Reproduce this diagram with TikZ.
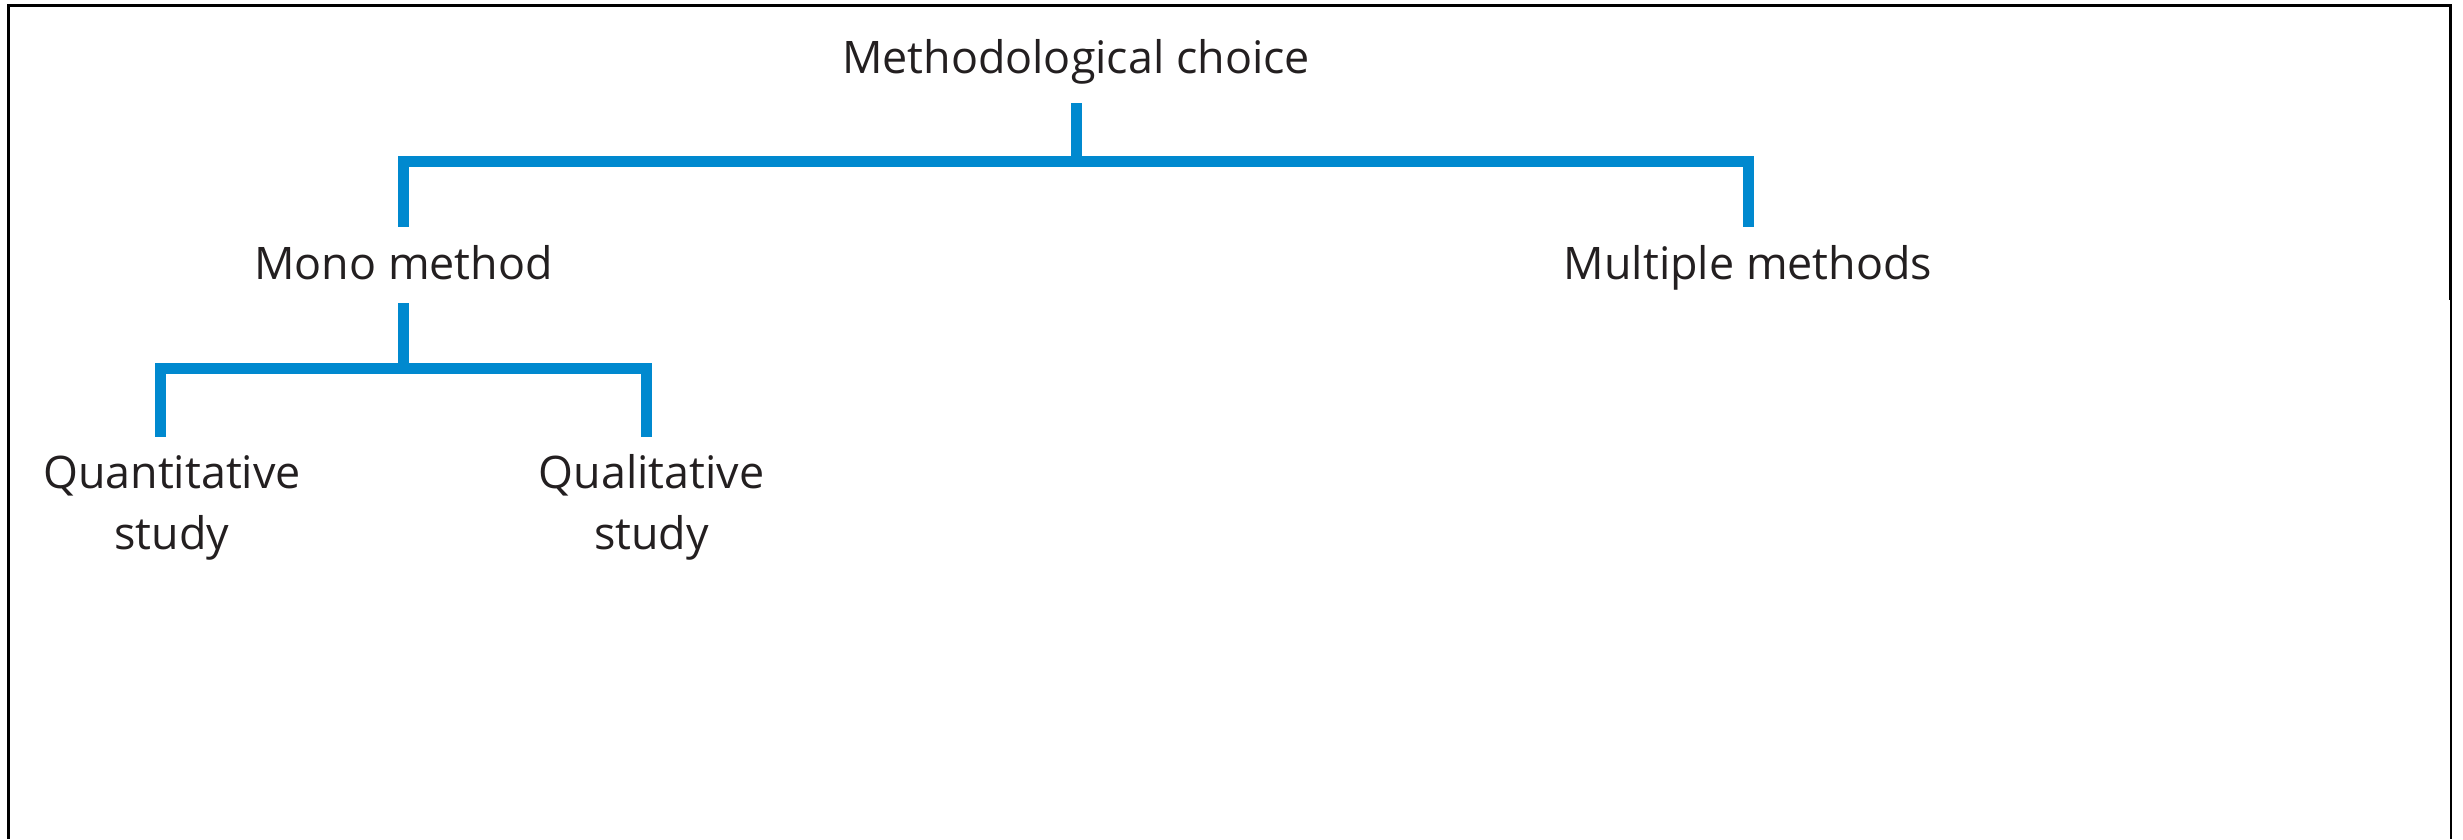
\documentclass[tikz,border=0pt]{standalone}
\usepackage{fontspec}
\setmainfont{Open Sans}
\usepackage{tikz}
\definecolor{linkblue}{RGB}{0,137,207}
\definecolor{inkgray}{RGB}{35,31,32}

\begin{document}
\begin{tikzpicture}[x=0.01cm,y=0.01cm,
   every node/.style={inner sep=0,anchor=base,text=inkgray,align=center,
      font=\fontsize{12.75}{17.6}\selectfont},
   link/.style={draw=linkblue,line width=0.11cm,line cap=butt,line join=miter},
   frame/.style={draw=black,line width=0.03cm}]
\useasboundingbox (0,0) rectangle (2463,839);
% frame, open at the bottom
\draw[frame] (8.5,0) |- (2450.5,833.5) -- (2450.5,539);
\draw[black,line width=0.012cm] (2451,539) -- (2451,0);
% labels
\node (choice) at (1076,765) {Methodological choice};
\node (mono) at (403.5,559) {Mono method};
\node (multi) at (1748,559) {Multiple methods};
\node (quant) at (172,289) {Quantitative\\study};
\node (qual) at (651.5,289) {Qualitative\\study};
% bracket levels
\coordinate (bar1) at (0,677);
\coordinate (bar2) at (0,470.5);
\draw[link] ([yshift=-0.29cm]choice.base) -- (choice |- bar1);
\draw[link] ([yshift=0.53cm]mono.base) -- (mono |- bar1) -| ([yshift=0.53cm]multi.base);
\draw[link] ([yshift=-0.23cm]mono.base) -- (mono |- bar2);
\draw[link] ([xshift=-0.11cm,yshift=1.13cm]quant.base) -- ([xshift=-0.11cm]quant |- bar2)
   -| ([xshift=-0.05cm,yshift=1.13cm]qual.base);
\end{tikzpicture}
\end{document}
